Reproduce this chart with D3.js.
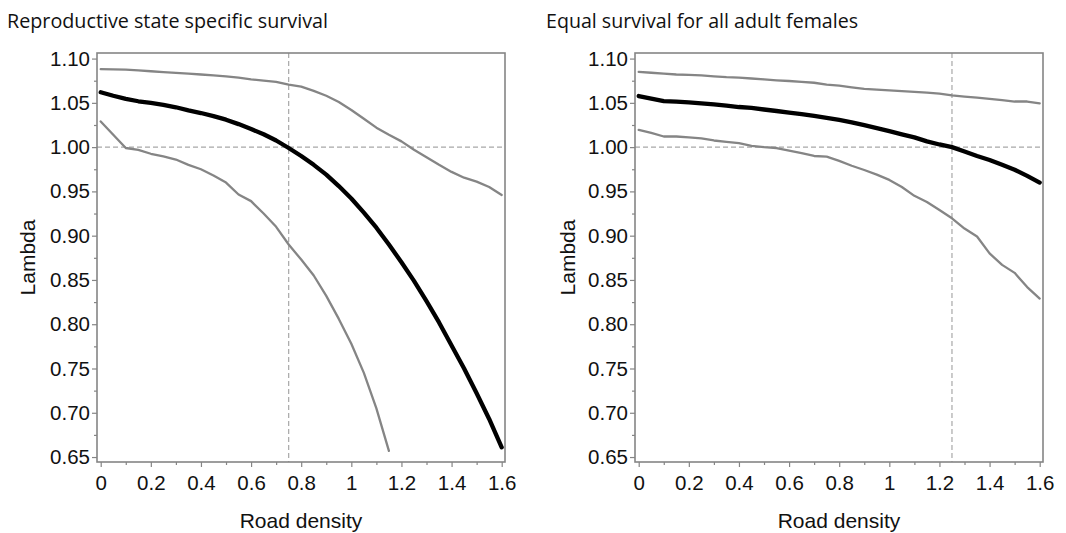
<!DOCTYPE html>
<html>
<head>
<meta charset="utf-8">
<script src="https://cdn.jsdelivr.net/npm/d3@7"></script>
<style>
  html, body { margin: 0; padding: 0; background: #fff; }
  svg { display: block; }
</style>
</head>
<body>
<svg id="chart" width="1066" height="533"></svg>
<script>
// ---------------- DATA ----------------
const roadDensity = [0, 0.05, 0.1, 0.15, 0.2, 0.25, 0.3, 0.35, 0.4, 0.45, 0.5, 0.55, 0.6, 0.65, 0.7, 0.75,
  0.8, 0.85, 0.9, 0.95, 1.0, 1.05, 1.1, 1.15, 1.2, 1.25, 1.3, 1.35, 1.4, 1.45, 1.5, 1.55, 1.6];

// Panel 1: Reproductive state specific survival
const stateMid = [1.062, 1.058, 1.0545, 1.0518, 1.050, 1.0478, 1.045, 1.0415, 1.0385, 1.035, 1.031, 1.026, 1.0205, 1.0145, 1.0075, 0.999,
  0.990, 0.980, 0.969, 0.956, 0.942, 0.926, 0.909, 0.890, 0.870, 0.849, 0.826, 0.802, 0.776, 0.750, 0.722, 0.693, 0.661];
const stateUpper = [1.088, 1.0878, 1.0875, 1.0866, 1.0857, 1.0848, 1.0838, 1.083, 1.082, 1.081, 1.080, 1.0785, 1.0765, 1.0752, 1.0738, 1.0705,
  1.0683, 1.0635, 1.058, 1.051, 1.042, 1.032, 1.022, 1.014, 1.0065, 0.997, 0.9885, 0.980, 0.972, 0.9655, 0.961, 0.955, 0.946];
const stateLower = [1.029, 1.014, 0.999, 0.997, 0.9925, 0.9895, 0.986, 0.980, 0.975, 0.968, 0.960, 0.9465, 0.939, 0.925, 0.910, 0.890,
  0.873, 0.855, 0.832, 0.806, 0.778, 0.745, 0.705, 0.657, null, null, null, null, null, null, null, null, null];

// Panel 2: Equal survival for all adult females
const equalMid = [1.0577, 1.0548, 1.052, 1.0513, 1.0505, 1.0494, 1.0482, 1.0468, 1.0453, 1.0443, 1.0425, 1.0408, 1.039, 1.0373, 1.0352, 1.0331,
  1.0307, 1.028, 1.0248, 1.0215, 1.018, 1.0144, 1.011, 1.0065, 1.003, 1.000, 0.995, 0.990, 0.9855, 0.980, 0.9745, 0.9675, 0.960];
const equalUpper = [1.085, 1.084, 1.083, 1.082, 1.0815, 1.081, 1.080, 1.079, 1.0785, 1.0775, 1.0765, 1.0755, 1.0747, 1.0738, 1.0727, 1.0705,
  1.0695, 1.0675, 1.0658, 1.065, 1.064, 1.0633, 1.0625, 1.0615, 1.0605, 1.0585, 1.057, 1.0558, 1.0545, 1.053, 1.0515, 1.0515, 1.0495];
const equalLower = [1.0195, 1.016, 1.012, 1.012, 1.011, 1.0098, 1.0075, 1.006, 1.0045, 1.0015, 1.000, 0.999, 0.996, 0.9933, 0.990, 0.9893,
  0.9845, 0.979, 0.9742, 0.969, 0.963, 0.955, 0.945, 0.938, 0.929, 0.9196, 0.908, 0.899, 0.880, 0.867, 0.858, 0.842, 0.829];

const panelTitles = ["Reproductive state specific survival", "Equal survival for all adult females"];
const thresholdDensity = [0.75, 1.25];
const thresholdLambda = 1.00;

const xTicks = [0, 0.2, 0.4, 0.6, 0.8, 1, 1.2, 1.4, 1.6];
const xMinorTicks = [0.1, 0.3, 0.5, 0.7, 0.9, 1.1, 1.3, 1.5];
const yTicks = [0.65, 0.70, 0.75, 0.80, 0.85, 0.90, 0.95, 1.00, 1.05, 1.10];
const yMinorTicks = [0.675, 0.725, 0.775, 0.825, 0.875, 0.925, 0.975, 1.025, 1.075];

const xLabel = "Road density";
const yLabel = "Lambda";

// ---------------- LAYOUT ----------------
const panels = [
  { title: panelTitles[0], ref: thresholdDensity[0], mid: stateMid, upper: stateUpper, lower: stateLower,
    left: 97, right: 505, titleX: 7, titleW: 321, ylabX: 35 },
  { title: panelTitles[1], ref: thresholdDensity[1], mid: equalMid, upper: equalUpper, lower: equalLower,
    left: 635, right: 1043, titleX: 546, titleW: 312, ylabX: 575 }
];
const plotTop = 53, plotBottom = 462;

const svg = d3.select("#chart");
const font = "'Liberation Sans', Arial, sans-serif";
const frameColor = "#858585";

panels.forEach(p => {
  const w = p.right - p.left;
  const x = d3.scaleLinear().domain([-0.0148, 1.6132]).range([p.left, p.right]);
  const y = d3.scaleLinear().domain([0.6444, 1.1063]).range([plotBottom, plotTop]);

  const g = svg.append("g");

  // title
  g.append("text")
    .attr("x", p.titleX).attr("y", 28)
    .attr("font-family", "'Open Sans', 'Noto Sans', sans-serif")
    .attr("font-size", 19.5)
    .attr("fill", "#111")
    .attr("textLength", p.titleW)
    .attr("lengthAdjust", "spacingAndGlyphs")
    .text(p.title);

  // reference dashed lines
  g.append("line")
    .attr("x1", p.left).attr("x2", p.right)
    .attr("y1", y(thresholdLambda)).attr("y2", y(thresholdLambda))
    .attr("stroke", "#a8a8a8").attr("stroke-width", 1.2).attr("stroke-dasharray", "5,3");
  g.append("line")
    .attr("x1", x(p.ref)).attr("x2", x(p.ref))
    .attr("y1", plotTop).attr("y2", plotBottom)
    .attr("stroke", "#a8a8a8").attr("stroke-width", 1.2).attr("stroke-dasharray", "5,3");

  const line = d3.line()
    .defined(d => d[1] !== null)
    .x(d => x(d[0])).y(d => y(d[1]));

  const series = [
    { vals: p.upper, color: "#858585", width: 2.3 },
    { vals: p.lower, color: "#858585", width: 2.3 },
    { vals: p.mid, color: "#000", width: 4.3 }
  ];
  series.forEach(s => {
    g.append("path")
      .datum(roadDensity.map((r, i) => [r, s.vals[i]]))
      .attr("d", line)
      .attr("fill", "none")
      .attr("stroke", s.color)
      .attr("stroke-width", s.width)
      .attr("stroke-linejoin", "round")
      .attr("stroke-linecap", "round");
  });

  // frame
  g.append("rect")
    .attr("x", p.left).attr("y", plotTop)
    .attr("width", w).attr("height", plotBottom - plotTop)
    .attr("fill", "none").attr("stroke", frameColor).attr("stroke-width", 1.6);

  // y axis
  const yAxis = g.append("g").attr("transform", `translate(${p.left},0)`)
    .call(d3.axisLeft(y).tickValues(yTicks).tickFormat(d3.format(".2f")).tickSize(5).tickPadding(2));
  yAxis.select(".domain").remove();
  yAxis.selectAll(".tick line").attr("stroke", frameColor).attr("stroke-width", 1.2);
  yAxis.selectAll(".tick text").attr("font-family", font).attr("font-size", 20.5).attr("fill", "#111");

  const yMinor = g.append("g").attr("transform", `translate(${p.left},0)`)
    .call(d3.axisLeft(y).tickValues(yMinorTicks).tickFormat("").tickSize(3));
  yMinor.select(".domain").remove();
  yMinor.selectAll(".tick line").attr("stroke", frameColor).attr("stroke-width", 1.2);

  // x axis
  const xAxis = g.append("g").attr("transform", `translate(0,${plotBottom})`)
    .call(d3.axisBottom(x).tickValues(xTicks).tickFormat(d3.format("~g")).tickSize(5).tickPadding(8));
  xAxis.select(".domain").remove();
  xAxis.selectAll(".tick line").attr("stroke", frameColor).attr("stroke-width", 1.2);
  xAxis.selectAll(".tick text").attr("font-family", font).attr("font-size", 20.5).attr("fill", "#111");

  const xMinor = g.append("g").attr("transform", `translate(0,${plotBottom})`)
    .call(d3.axisBottom(x).tickValues(xMinorTicks).tickFormat("").tickSize(3));
  xMinor.select(".domain").remove();
  xMinor.selectAll(".tick line").attr("stroke", frameColor).attr("stroke-width", 1.2);

  // axis titles
  g.append("text")
    .attr("x", (p.left + p.right) / 2).attr("y", 528)
    .attr("text-anchor", "middle")
    .attr("font-family", font).attr("font-size", 21).attr("fill", "#111")
    .text(xLabel);
  g.append("text")
    .attr("transform", `translate(${p.ylabX},${(plotTop + plotBottom) / 2}) rotate(-90)`)
    .attr("text-anchor", "middle")
    .attr("font-family", font).attr("font-size", 21).attr("fill", "#111")
    .text(yLabel);
});
</script>
</body>
</html>
